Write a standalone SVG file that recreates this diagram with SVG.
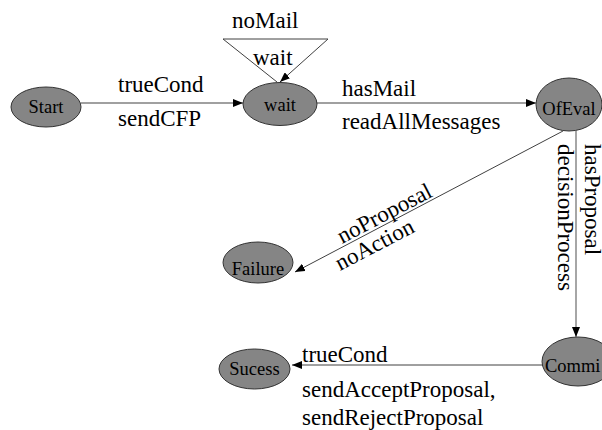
<svg xmlns="http://www.w3.org/2000/svg" width="602" height="430" viewBox="0 0 602 430">
<style>
.node ellipse{fill:#858585;stroke:#333;stroke-width:1}
.node text{font-family:'Liberation Serif','DejaVu Serif',serif;font-size:18.5px;fill:#000;text-anchor:middle}
.edge{fill:none;stroke:#808080;stroke-width:1.4}
.edge.dk{stroke:#404040;stroke-width:1}
.lbl{font-family:'Liberation Serif','DejaVu Serif',serif;font-size:23px;fill:#000}
</style>
<defs>
<marker id="ah" viewBox="0 0 10 8" refX="10" refY="4" markerWidth="10" markerHeight="8" markerUnits="userSpaceOnUse" orient="auto">
<path d="M0,0 L10,4 L0,8 Z" fill="#000"/>
</marker>
</defs>
<rect width="602" height="430" fill="#fff"/>
<g id="connectors">
<line class="edge" x1="81" y1="103" x2="243" y2="103" marker-end="url(#ah)"/>
<polyline class="edge dk" points="277,82 223,39 328,39 280,82" marker-end="url(#ah)"/>
<line class="edge" x1="316" y1="103" x2="536" y2="103" marker-end="url(#ah)"/>
<line class="edge dk" x1="563" y1="131" x2="295" y2="272" marker-end="url(#ah)"/>
<line class="edge" x1="576" y1="131" x2="576" y2="337" marker-end="url(#ah)"/>
<line class="edge dk" x1="542" y1="365" x2="292" y2="365" marker-end="url(#ah)"/>
<text class="lbl" x="118" y="92" font-family="Liberation Serif, DejaVu Serif, serif">trueCond</text>
<text class="lbl" x="118" y="126">sendCFP</text>
<text class="lbl" x="232" y="28">noMail</text>
<text class="lbl" x="253" y="65">wait</text>
<text class="lbl" x="342" y="96">hasMail</text>
<text class="lbl" x="342" y="129">readAllMessages</text>
<text class="lbl" transform="translate(342,244) rotate(-27.6)">noProposal</text>
<text class="lbl" transform="translate(340,271) rotate(-27.6)">noAction</text>
<text class="lbl" transform="translate(585,144) rotate(90)">hasProposal</text>
<text class="lbl" transform="translate(558,144) rotate(90)">decisionProcess</text>
<text class="lbl" x="302" y="362">trueCond</text>
<text class="lbl" x="302" y="397">sendAcceptProposal,</text>
<text class="lbl" x="302" y="425">sendRejectProposal</text>
</g>
<g id="Start" class="node"><ellipse cx="46" cy="107" rx="35" ry="20"/><text x="46" y="113">Start</text></g>
<g id="wait" class="node"><ellipse cx="280" cy="104" rx="37" ry="21.5"/><text x="280" y="111">wait</text></g>
<g id="OfEval" class="node"><ellipse cx="569" cy="104.5" rx="33" ry="26.5"/><text x="569" y="115">OfEval</text></g>
<g id="Failure" class="node"><ellipse cx="258" cy="262.5" rx="35" ry="20.5"/><text x="258" y="275">Failure</text></g>
<g id="Commi" class="node"><ellipse cx="578" cy="361.5" rx="36" ry="24.5"/><text x="545" y="372" style="text-anchor:start">Commi</text></g>
<g id="Sucess" class="node"><ellipse cx="254.5" cy="369" rx="35.5" ry="20"/><text x="254.5" y="375">Sucess</text></g>
</svg>
